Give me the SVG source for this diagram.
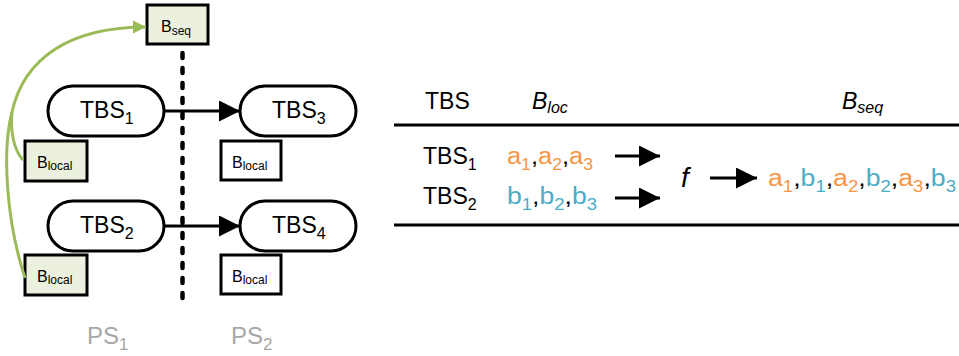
<svg xmlns="http://www.w3.org/2000/svg" width="959" height="356" viewBox="0 0 959 356">
<defs>
<style>
text{font-family:"Liberation Sans",Arial,sans-serif;fill:#000}
.pill{fill:#fff;stroke:#000;stroke-width:3}
.gbox{fill:#ebf1de;stroke:#000;stroke-width:3}
.wbox{fill:#fff;stroke:#000;stroke-width:3}
.big{font-size:23px}
.sub{font-size:16px}
.sm{font-size:16px}
.smsub{font-size:12px}
.ps{font-size:24px;fill:#a6a6a6}
.ps tspan{fill:#a6a6a6}
.or{fill:#f79646}
.bl{fill:#4bacc6}
.conn{stroke:#000;stroke-width:3;fill:none}
.rule{stroke:#000;stroke-width:3}
</style>
<marker id="ah" viewBox="0 0 10 10" refX="10" refY="5" markerWidth="7.5" markerHeight="7" orient="auto" markerUnits="strokeWidth"><path d="M0,0 L10,5 L0,10 z" fill="#000"/></marker>
<marker id="gh" viewBox="0 0 10 10" refX="10" refY="5" markerWidth="4.5" markerHeight="5.5" orient="auto" markerUnits="strokeWidth"><path d="M0,0 L10,5 L0,10 z" fill="#9bbb59"/></marker>
</defs>

<g id="divider">
<line x1="182.5" y1="53" x2="182.5" y2="302" stroke="#000" stroke-width="4.5" stroke-dasharray="5 10" stroke-linecap="round"/>
</g>

<g id="bseq">
<rect class="gbox" x="147" y="5" width="61" height="39"/>
<text x="161" y="32" class="sm">B<tspan class="smsub" dy="3">seq</tspan></text>
</g>

<g id="tbs1">
<rect class="pill" x="48" y="86" width="116" height="50" rx="25"/>
<text x="80" y="118" class="big">TBS<tspan class="sub" dy="6">1</tspan></text>
</g>
<g id="tbs3">
<rect class="pill" x="240" y="86" width="116" height="50" rx="25"/>
<text x="272" y="118" class="big">TBS<tspan class="sub" dy="6">3</tspan></text>
</g>
<g id="tbs2">
<rect class="pill" x="48" y="201" width="116" height="50" rx="25"/>
<text x="80" y="233" class="big">TBS<tspan class="sub" dy="6">2</tspan></text>
</g>
<g id="tbs4">
<rect class="pill" x="240" y="201" width="116" height="50" rx="25"/>
<text x="272" y="233" class="big">TBS<tspan class="sub" dy="6">4</tspan></text>
</g>

<g id="blocal1">
<rect class="gbox" x="25" y="141" width="62" height="40"/>
<text x="37" y="168" class="sm">B<tspan class="smsub" dy="2">local</tspan></text>
</g>
<g id="blocal2">
<rect class="gbox" x="25" y="255" width="62" height="40"/>
<text x="37" y="282" class="sm">B<tspan class="smsub" dy="2">local</tspan></text>
</g>
<g id="blocal3">
<rect class="wbox" x="221" y="141" width="60" height="39"/>
<text x="232" y="168" class="sm">B<tspan class="smsub" dy="2">local</tspan></text>
</g>
<g id="blocal4">
<rect class="wbox" x="221" y="255" width="60" height="39"/>
<text x="232" y="282" class="sm">B<tspan class="smsub" dy="2">local</tspan></text>
</g>

<g id="connectors">
<line class="conn" x1="164" y1="111" x2="240" y2="111" marker-end="url(#ah)"/>
<line class="conn" x1="164" y1="226" x2="240" y2="226" marker-end="url(#ah)"/>
<path d="M25,278 C 6,220 2,150 12,112 C 24,58 70,27 146,27" fill="none" stroke="#9bbb59" stroke-width="3" marker-end="url(#gh)"/>
<path d="M23,160 C 14,150 10,132 12,112" fill="none" stroke="#9bbb59" stroke-width="3"/>
</g>

<g id="labels">
<text x="87" y="344" class="ps">PS<tspan dy="6" font-size="17">1</tspan></text>
<text x="231" y="344" class="ps">PS<tspan dy="6" font-size="17">2</tspan></text>
</g>

<g id="table">
<text x="425" y="109" class="big">TBS</text>
<text x="532" y="109" class="big" font-style="italic">B<tspan class="sub" dy="4">loc</tspan></text>
<text x="842" y="109" class="big" font-style="italic">B<tspan class="sub" dy="4">seq</tspan></text>
<line class="rule" x1="394" y1="125" x2="959" y2="125"/>
<line class="rule" x1="394" y1="225" x2="959" y2="225"/>
<text x="423" y="164" class="big">TBS<tspan class="sub" dy="6">1</tspan></text>
<text x="423" y="204" class="big">TBS<tspan class="sub" dy="6">2</tspan></text>
<text x="507" y="164" class="big" textLength="86" lengthAdjust="spacingAndGlyphs"><tspan class="or">a</tspan><tspan class="or sub" dy="6">1</tspan><tspan dy="-6">,</tspan><tspan class="or">a</tspan><tspan class="or sub" dy="6">2</tspan><tspan dy="-6">,</tspan><tspan class="or">a</tspan><tspan class="or sub" dy="6">3</tspan></text>
<text x="507" y="204" class="big" textLength="90" lengthAdjust="spacingAndGlyphs"><tspan class="bl">b</tspan><tspan class="bl sub" dy="6">1</tspan><tspan dy="-6">,</tspan><tspan class="bl">b</tspan><tspan class="bl sub" dy="6">2</tspan><tspan dy="-6">,</tspan><tspan class="bl">b</tspan><tspan class="bl sub" dy="6">3</tspan></text>
<line class="conn" x1="615" y1="156" x2="660" y2="156" marker-end="url(#ah)"/>
<line class="conn" x1="615" y1="198" x2="660" y2="198" marker-end="url(#ah)"/>
<text x="681" y="187" font-size="28" font-style="italic" font-family="Liberation Serif, serif">f</text>
<line class="conn" x1="710" y1="178" x2="757" y2="178" marker-end="url(#ah)"/>
<text x="768" y="186" class="big" textLength="188" lengthAdjust="spacingAndGlyphs"><tspan class="or">a</tspan><tspan class="or sub" dy="6">1</tspan><tspan dy="-6">,</tspan><tspan class="bl">b</tspan><tspan class="bl sub" dy="6">1</tspan><tspan dy="-6">,</tspan><tspan class="or">a</tspan><tspan class="or sub" dy="6">2</tspan><tspan dy="-6">,</tspan><tspan class="bl">b</tspan><tspan class="bl sub" dy="6">2</tspan><tspan dy="-6">,</tspan><tspan class="or">a</tspan><tspan class="or sub" dy="6">3</tspan><tspan dy="-6">,</tspan><tspan class="bl">b</tspan><tspan class="bl sub" dy="6">3</tspan></text>
</g>
</svg>
